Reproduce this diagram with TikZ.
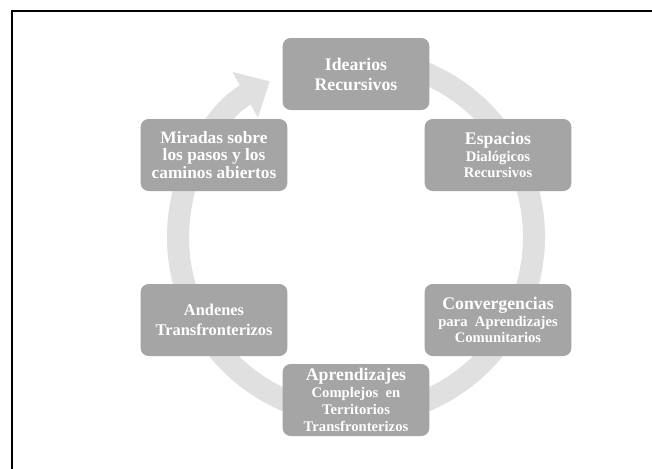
\documentclass[tikz,border=0pt]{standalone}
\usepackage{fontspec}
\setmainfont{Liberation Serif}
\usetikzlibrary{arrows.meta}

\definecolor{cajagris}{HTML}{A5A5A5}
\definecolor{anillogris}{HTML}{E0E0E0}

\newcommand{\grande}{\fontsize{13.3}{15}\selectfont}
\newcommand{\chica}{\fontsize{11}{12.5}\selectfont}

\tikzset{
  etapa/.style={fill=cajagris, rounded corners=6pt, text=white,
    font=\bfseries\fontsize{13.3}{15}\selectfont,
    align=center, minimum width=110pt, minimum height=54pt, inner sep=1pt},
  mixta/.style={font=\bfseries\fontsize{11}{12.6}\selectfont},
  apretada/.style={font=\bfseries\fontsize{13}{12.8}\selectfont},
  anillo/.style={line width=16.5pt, draw=anillogris,
    -{Triangle[width=38pt, length=21pt]}},
}

\begin{document}
\begin{tikzpicture}[x=0.75pt, y=0.75pt]
  \clip (0,0) rectangle (652,-468);
  \fill[white] (0,0) rectangle (652,-468);

  % marco
  \draw[line width=1.8pt] (12,-480) -- (12,-11) -- (680,-11);

  % anillo continuo con flecha
  \coordinate (centro) at (356,-237);
  \draw[anillo] (centro) ++(85:178) arc[start angle=85, end angle=-241, radius=178];

  % etapas
  \node[etapa] (ideario) at (356,-74)
    {Idearios\\ Recursivos};
  \node[etapa, mixta] (espacios) at (498,-155)
    {\grande Espacios\\ Dialógicos\\ Recursivos};
  \node[etapa, mixta] (convergencias) at (498,-320)
    {\grande Convergencias\\ para~ Aprendizajes\\ Comunitarios};
  \node[etapa, mixta] (aprendizajes) at (356,-400)
    {\grande Aprendizajes\\ Complejos~ en\\ Territorios\\ Transfronterizos};
  \node[etapa, font=\bfseries\fontsize{12.3}{15}\selectfont] (andenes) at (214,-320)
    {Andenes\\ Transfronterizos};
  \node[etapa, apretada] (miradas) at (214,-155)
    {Miradas sobre\\ los pasos y los\\ caminos abiertos};
\end{tikzpicture}
\end{document}
